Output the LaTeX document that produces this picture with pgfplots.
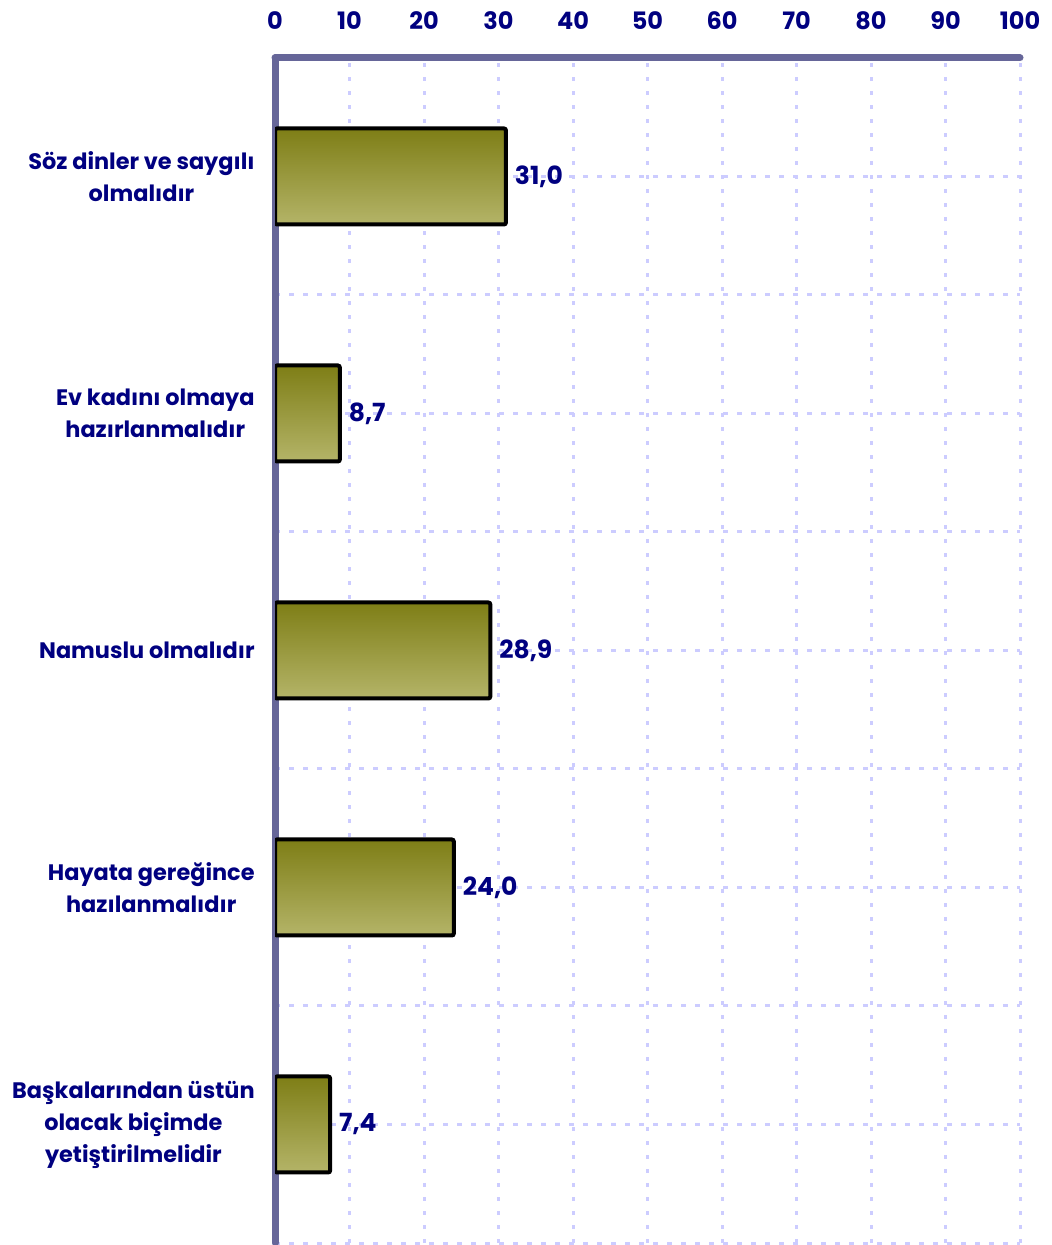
\documentclass[border=0pt]{standalone}
\usepackage{fontspec}
\setmainfont{Poppins}
\usepackage{pgfplots}
\pgfplotsset{compat=1.18}

\definecolor{navy}{RGB}{0,0,128}
\definecolor{axisline}{RGB}{102,102,153}
\definecolor{gridc}{RGB}{204,204,255}
\definecolor{olivetop}{RGB}{126,126,22}
\definecolor{olivebot}{RGB}{180,180,104}

% grid behind bars, axis lines in front of them
\pgfplotsset{layers/barsbelow/.define layer set={
  axis background,axis grid,main,axis ticks,axis lines,axis tick labels,axis descriptions,axis foreground}{}}

\pgfplotsset{olivebar/.style={draw=black, line width=2pt, rounded corners=1pt,
  top color=olivetop, bottom color=olivebot, bar shift=0pt}}

\begin{document}
\begin{tikzpicture}
\begin{axis}[
  name=ax,
  set layers=barsbelow,
  scale only axis,
  width=372.5pt, height=592.5pt,
  xbar, bar width=48pt,
  xmin=0, xmax=100,
  ymin=0.5, ymax=5.5,
  axis x line=top,
  axis y line=left,
  axis line style={-, line width=3.5pt, color=axisline, line cap=round},
  xtick={0,10,...,100},
  ytick={1,...,5},
  minor ytick={0.5,1.5,2.5,3.5,4.5},
  yticklabels={
    {Başkalarından üstün\\olacak biçimde\\yetiştirilmelidir},
    {Hayata gereğince\\hazılanmalıdır},
    {Namuslu olmalıdır},
    {Ev kadını olmaya\\hazırlanmalıdır},
    {Söz dinler ve saygılı\\olmalıdır}},
  major tick length=0pt, minor tick length=0pt,
  grid=both,
  x grid style={gridc, line width=1.5pt, dash pattern=on 2pt off 5pt},
  y grid style={gridc, line width=1.5pt, dash pattern=on 2.5pt off 4.5pt},
  /pgf/number format/assume math mode=true,
  xticklabel style={font=\fontsize{12}{16}\selectfont\bfseries, text=navy, inner sep=0pt, yshift=14pt},
  yticklabel style={font=\fontsize{11.2}{16}\selectfont\bfseries, text=navy, align=center, inner sep=0pt, xshift=-10pt},
  nodes near coords={\pgfmathprintnumber[use comma,fixed,fixed zerofill,precision=1]{\pgfplotspointmeta}},
  nodes near coords style={font=\fontsize{12.5}{16}\selectfont\bfseries, text=navy, anchor=west, inner sep=0pt, xshift=3.5pt},
]
\addplot[olivebar] coordinates {(31.0,5)};
\addplot[olivebar] coordinates {(8.7,4)};
\addplot[olivebar] coordinates {(28.9,3)};
\addplot[olivebar] coordinates {(24.0,2)};
\addplot[olivebar] coordinates {(7.4,1)};
\end{axis}
\pgfresetboundingbox
\path (ax.south west) ++(-137.5pt,-1pt) rectangle ([xshift=16pt,yshift=29pt]ax.north east);
\end{tikzpicture}
\end{document}
